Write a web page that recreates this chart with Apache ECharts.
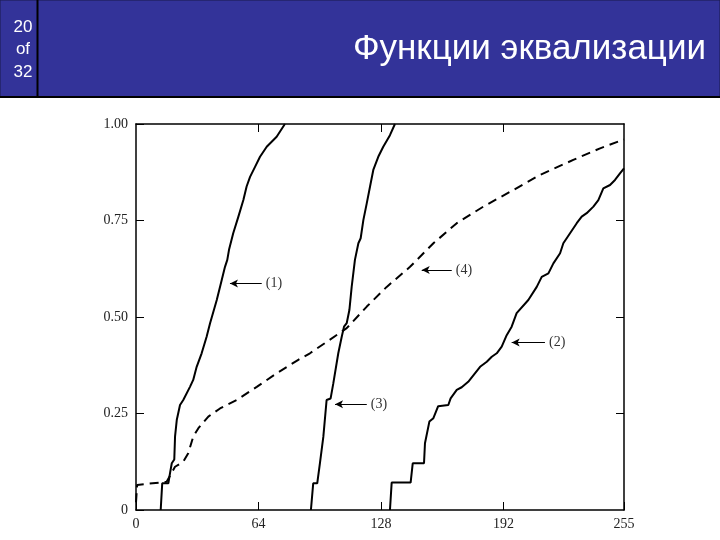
<!DOCTYPE html>
<html><head><meta charset="utf-8">
<script src="https://cdn.jsdelivr.net/npm/echarts@6/dist/echarts.min.js"></script>
<style>html,body{margin:0;padding:0;background:#fff}#c{width:720px;height:540px}</style>
</head><body><div id="c"></div>
<script>
// ---- data ----
const xTickValues = [0, 64, 128, 192, 255];
const xTickLabels = ['0', '64', '128', '192', '255'];
const yTickValues = [0, 0.25, 0.5, 0.75, 1];
const yTickLabels = ['0', '0.25', '0.50', '0.75', '1.00'];

const curve1 = [[12.9,0],[13.7,0.069],[16.9,0.069],[17.8,0.096],[18.7,0.121],[20.0,0.131],[20.4,0.190],[21.3,0.233],[23.0,0.272],[24.7,0.285],[28.2,0.319],[29.9,0.337],[31.7,0.371],[34.3,0.406],[36.9,0.449],[38.7,0.484],[42.2,0.544],[44.8,0.596],[46.5,0.630],[47.7,0.648],[48.6,0.674],[50.8,0.717],[53.5,0.760],[56.1,0.803],[57.8,0.838],[59.6,0.863],[62.2,0.889],[64.8,0.915],[68.3,0.941],[73.5,0.967],[77.8,1.0]];

const curve2 = [[132.7,0],[133.6,0.071],[143.5,0.071],[144.6,0.121],[150.5,0.121],[151.0,0.173],[153.3,0.229],[155.4,0.238],[157.9,0.269],[163.2,0.272],[164.4,0.289],[167.6,0.311],[170.2,0.318],[173.6,0.332],[177.1,0.354],[179.8,0.371],[183.3,0.384],[185.9,0.397],[188.5,0.406],[191.1,0.423],[193.7,0.453],[196.3,0.475],[198.9,0.510],[205.0,0.544],[209.4,0.578],[212.0,0.604],[215.5,0.613],[218.1,0.639],[221.6,0.665],[223.3,0.691],[226.8,0.717],[230.3,0.743],[232.9,0.760],[235.5,0.769],[239.0,0.786],[241.6,0.803],[244.2,0.833],[247.7,0.842],[250.3,0.855],[252.9,0.872],[255,0.885]];

const curve3 = [[91.4,0],[92.6,0.069],[94.7,0.069],[96.1,0.121],[97.9,0.190],[99.6,0.285],[101.7,0.289],[103.1,0.328],[105.7,0.406],[107.5,0.449],[108.7,0.475],[110.1,0.484],[111.5,0.518],[112.7,0.578],[114.4,0.648],[116.2,0.691],[117.4,0.704],[118.8,0.751],[120.6,0.795],[122.3,0.838],[124.0,0.881],[126.6,0.915],[129.2,0.941],[132.7,0.971],[135.3,1.0]];

const curve4 = [[0,0.02],[0.6,0.065],[16.0,0.073],[20.4,0.112],[24.7,0.125],[27.3,0.147],[29.9,0.190],[32.6,0.212],[37.8,0.242],[43.9,0.263],[52.6,0.285],[63.1,0.319],[73.5,0.354],[84.8,0.389],[90.9,0.406],[110.1,0.471],[120.6,0.527],[131.0,0.578],[143.2,0.630],[155.4,0.691],[167.6,0.743],[181.5,0.786],[197.2,0.829],[211.1,0.868],[228.5,0.907],[242.5,0.937],[255,0.960]];

const annotationTexts = ['(1)', '(2)', '(3)', '(4)'];
const annotationTails = [[65.7,0.587],[213.7,0.434],[120.6,0.274],[165.0,0.622]];
const annotationTips  = [[49.1,0.587],[196.3,0.434],[104.0,0.274],[149.3,0.622]];

// ---- chart ----
const chart = echarts.init(document.getElementById('c'), null, {renderer: 'canvas'});
const serif = '"Liberation Serif", "DejaVu Serif", serif';
const sans = '"Liberation Sans", Arial, sans-serif';
const axisLineStyle = {show: true, onZero: false, lineStyle: {color: '#000', width: 1.5}};
const tickStyle = {show: true, inside: true, length: 8, lineStyle: {color: '#000', width: 1}};

function curveSeries(name, data, dashed) {
  return {
    name, type: 'line', data, showSymbol: false, symbol: 'none', smooth: false,
    lineStyle: {color: '#000', width: 2, type: dashed ? [9, 6] : 'solid'},
    silent: true, z: 3
  };
}

const option = {
  animation: false,
  backgroundColor: '#fff',
  title: [
    {text: 'Функции эквализации', right: 9, top: 27,
     textStyle: {color: '#fff', fontSize: 35, fontWeight: 'normal', fontFamily: sans}},
    {text: '20\nof\n32', left: 18, top: 11, textAlign: 'center',
     textStyle: {color: '#fff', fontSize: 17, fontWeight: 'normal', fontFamily: sans, lineHeight: 22.5}}
  ],
  graphic: [
    {type: 'rect', z: -10, shape: {x: 0, y: 0, width: 720, height: 97},
     style: {fill: '#333399', stroke: '#1a1a4d', lineWidth: 1}},
    {type: 'line', z: -5, shape: {x1: 37.5, y1: 0, x2: 37.5, y2: 97}, style: {stroke: '#000', lineWidth: 2}},
    {type: 'line', z: -5, shape: {x1: 0, y1: 97, x2: 720, y2: 97}, style: {stroke: '#000', lineWidth: 2}}
  ],
  grid: {left: 136, right: 96, top: 124, bottom: 30, show: false},
  xAxis: [
    {type: 'value', min: 0, max: 255, interval: 64, position: 'bottom',
     axisLine: axisLineStyle, splitLine: {show: false},
     axisTick: Object.assign({}, tickStyle, {customValues: xTickValues}),
     axisLabel: {show: true, customValues: xTickValues, margin: 7, color: '#222', fontSize: 14, fontFamily: serif,
       formatter: v => { const i = xTickValues.indexOf(v); return i >= 0 ? xTickLabels[i] : ''; }}},
    {type: 'value', min: 0, max: 255, interval: 64, position: 'top',
     axisLine: axisLineStyle, splitLine: {show: false},
     axisTick: Object.assign({}, tickStyle, {customValues: xTickValues.slice(1, -1)}),
     axisLabel: {show: false}}
  ],
  yAxis: [
    {type: 'value', min: 0, max: 1, interval: 0.25, position: 'left',
     axisLine: axisLineStyle, splitLine: {show: false},
     axisTick: Object.assign({}, tickStyle, {customValues: yTickValues}),
     axisLabel: {show: true, customValues: yTickValues, margin: 8, color: '#222', fontSize: 14, fontFamily: serif,
       formatter: v => { const i = yTickValues.indexOf(v); return i >= 0 ? yTickLabels[i] : ''; }}},
    {type: 'value', min: 0, max: 1, interval: 0.25, position: 'right',
     axisLine: axisLineStyle, splitLine: {show: false},
     axisTick: Object.assign({}, tickStyle, {customValues: yTickValues.slice(1, -1)}),
     axisLabel: {show: false}}
  ],
  series: [
    curveSeries('(1)', curve1, false),
    curveSeries('(2)', curve2, false),
    curveSeries('(3)', curve3, false),
    curveSeries('(4)', curve4, true),
    {
      name: 'annotations', type: 'line', data: [], silent: true, z: 4,
      markLine: {
        silent: true, symbol: ['none', 'arrow'], symbolSize: [6, 8], animation: false,
        lineStyle: {color: '#000', width: 1, type: 'solid'},
        label: {show: true, position: 'start', formatter: '{b}', color: '#333', fontSize: 14, fontFamily: serif, distance: 4},
        emphasis: {disabled: true},
        data: annotationTexts.map((t, i) => [
          {name: t, coord: annotationTails[i]},
          {coord: annotationTips[i]}
        ])
      }
    }
  ]
};
chart.setOption(option);
</script></body></html>
